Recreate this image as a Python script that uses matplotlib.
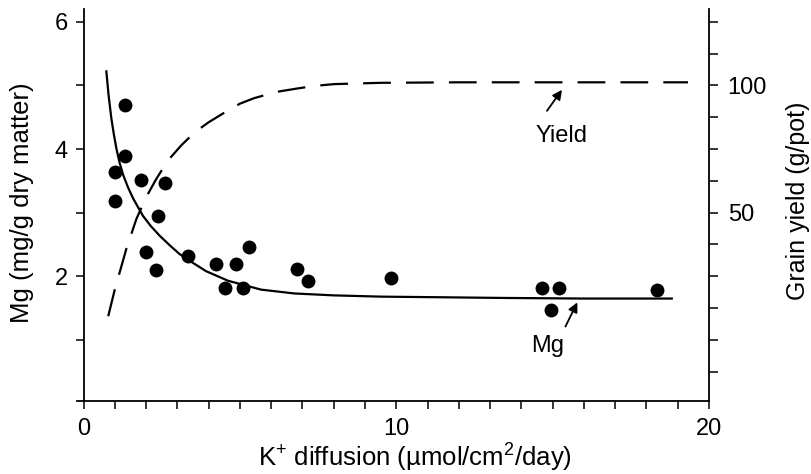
"""Mg concentration and grain yield vs K+ diffusion -> out.png"""
import matplotlib
matplotlib.use("Agg")
import matplotlib.pyplot as plt
from matplotlib.ticker import FixedLocator

plt.rcParams['font.family'] = ['Liberation Sans', 'DejaVu Sans']
plt.rcParams['mathtext.fontset'] = 'custom'
plt.rcParams['mathtext.rm'] = 'Liberation Sans'
plt.rcParams['mathtext.it'] = 'Liberation Sans'

# ── data ─────────────────────────────────────────────────────────────────────
k_obs = [1.32, 1.34, 1.00, 1.00, 1.85, 2.59, 2.38, 2.01, 2.31, 3.34, 4.24,
         4.88, 5.30, 4.51, 5.09, 6.83, 7.17, 9.82, 14.65, 15.22, 14.94, 18.33]
mg_obs = [4.69, 3.89, 3.64, 3.18, 3.52, 3.47, 2.95, 2.38, 2.10, 2.32, 2.19,
          2.19, 2.46, 1.82, 1.81, 2.11, 1.93, 1.97, 1.81, 1.81, 1.47, 1.79]

# fitted Mg curve (left axis)
k_mg_fit = [0.73, 0.80, 0.89, 0.97, 1.05, 1.15, 1.27, 1.42, 1.59, 1.75,
            1.90, 2.15, 2.43, 2.75, 3.07, 3.50, 3.92, 4.62, 5.68, 6.74,
            8.0, 9.51, 11.5, 13.3, 16.0, 18.81]
mg_fit = [5.22, 4.85, 4.48, 4.23, 4.01, 3.79, 3.59, 3.40, 3.22, 3.08,
          2.95, 2.79, 2.64, 2.49, 2.35, 2.21, 2.08, 1.93, 1.79, 1.73,
          1.70, 1.68, 1.67, 1.66, 1.65, 1.65]

# fitted grain yield curve (right axis, g/pot)
k_yield_fit = [0.79, 1.00, 1.37, 1.69, 2.00, 2.33, 2.70, 3.13, 3.55, 4.00,
               4.60, 5.00, 5.46, 6.20, 6.85, 7.40, 8.02, 9.5, 12.0, 16.0, 19.33]
yield_fit = [9.3, 19.8, 35.8, 47.5, 56.0, 63.3, 70.5, 76.5, 81.5, 85.5,
             90.0, 92.8, 95.0, 97.5, 98.8, 99.8, 100.5, 101.0, 101.2, 101.2, 101.2]

# ── figure ───────────────────────────────────────────────────────────────────
fig = plt.figure(figsize=(8.11, 4.74), dpi=100)
ax = fig.add_axes([0.0945, 0.154, 0.7797, 0.827])
ax.set_xlim(-0.22, 20)
Y_LO, Y_HI = 0.04, 6.2
ax.set_ylim(Y_LO, Y_HI)

ax2 = ax.twinx()
ax2.set_ylim(25 * Y_LO - 25, 25 * Y_HI - 25)

# Mg points + fitted line
ax.scatter(k_obs, mg_obs, s=100, color="black", zorder=4, linewidths=0)
ax.plot(k_mg_fit, mg_fit, color="black", lw=1.6, zorder=3)

# yield dashed curve
ax2.plot(k_yield_fit, yield_fit, color="black", lw=1.6,
         linestyle=(0, (12.5, 6.8)), zorder=3)

# ── spines and ticks ─────────────────────────────────────────────────────────
for a in (ax, ax2):
    a.spines['top'].set_visible(False)
    for s in a.spines.values():
        s.set_linewidth(1.3)
ax.spines['right'].set_visible(False)
ax2.spines['left'].set_visible(False)
ax2.spines['bottom'].set_visible(False)
ax.spines['left'].set_position(('data', 0))

ax.xaxis.set_major_locator(FixedLocator([0, 10, 20]))
ax.xaxis.set_minor_locator(FixedLocator([i for i in range(1, 20) if i != 10]))
ax.yaxis.set_major_locator(FixedLocator([2, 4, 6]))
ax.yaxis.set_minor_locator(FixedLocator([1, 3, 5]))
ax2.yaxis.set_major_locator(FixedLocator([50, 100]))
ax2.yaxis.set_minor_locator(FixedLocator([-12.5, 0, 12.5, 25, 37.5, 62.5,
                                          75, 87.5, 112.5, 125]))

ax.tick_params(which="both", length=5.5, width=1.1, labelsize=17, pad=6)
ax.tick_params(axis="x", pad=7)
ax2.tick_params(which="both", length=6.5, width=1.1, labelsize=17, pad=7)

# ── labels ───────────────────────────────────────────────────────────────────
ax.set_xlabel(r"K$^{+}$ diffusion (µmol/cm$^{2}$/day)", fontsize=18.5)
ax.xaxis.set_label_coords(0.535, -0.104)
ax.set_ylabel("Mg (mg/g dry matter)", fontsize=18.5)
ax.yaxis.set_label_coords(-0.067, 0.505)
ax2.set_ylabel("Grain yield (g/pot)", fontsize=18)
ax2.yaxis.set_label_coords(1.122, 0.51)

# curve annotations
arrow_kw = dict(arrowstyle="-|>", color="black", lw=1.3, mutation_scale=14,
                shrinkA=0, shrinkB=0)
ax.annotate("", xy=(15.79, 1.59), xytext=(15.41, 1.21), arrowprops=arrow_kw)
ax.text(14.83, 0.90, "Mg", fontsize=17, ha="center", va="center")
ax.annotate("", xy=(15.30, 4.93), xytext=(14.82, 4.60), arrowprops=arrow_kw)
ax.text(15.30, 4.20, "Yield", fontsize=17, ha="center", va="center")

fig.savefig("out.png", dpi=100, facecolor="white")
